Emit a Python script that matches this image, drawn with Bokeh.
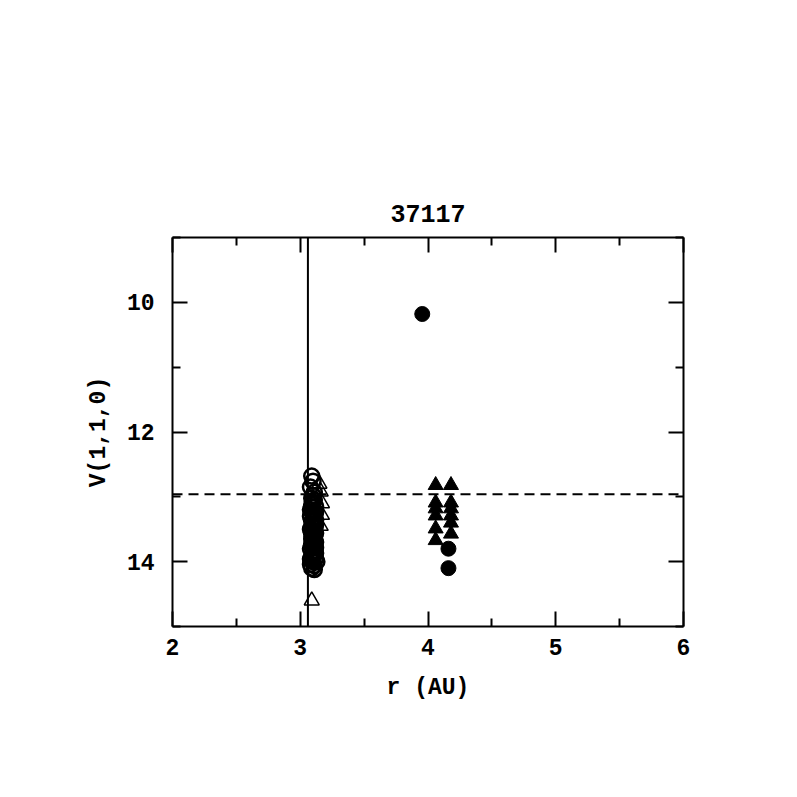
from bokeh.plotting import figure
from bokeh.models import Range1d, LinearAxis, Span, FixedTicker, CustomJSTickFormatter
from bokeh.embed import file_html
from bokeh.resources import INLINE

# ---- data ----
title_text = "37117"
x_ticks = [2, 3, 4, 5, 6]
x_minor = [2.5, 3.5, 4.5, 5.5]
y_ticks = [10, 12, 14]
y_minor = [9, 11, 13, 15]

open_circle_r = [3.09, 3.10, 3.08, 3.11, 3.09, 3.10, 3.12, 3.08, 3.10, 3.11,
                 3.09, 3.12, 3.08, 3.10, 3.11, 3.09, 3.12, 3.10, 3.08, 3.11,
                 3.09, 3.12, 3.10, 3.08, 3.13, 3.09, 3.11, 3.10, 3.11, 3.09,
                 3.12, 3.08, 3.10, 3.11, 3.09, 3.12, 3.10, 3.08, 3.11, 3.10,
                 3.09, 3.11, 3.10, 3.12, 3.09, 3.10, 3.11, 3.09, 3.10, 3.12,
                 3.10, 3.09, 3.11, 3.10, 3.12, 3.09]
open_circle_v = [12.68, 12.76, 12.85, 12.93, 13.02, 13.08, 13.15, 13.20, 13.27, 13.33,
                 13.38, 13.44, 13.50, 13.55, 13.60, 13.65, 13.70, 13.74, 13.80, 13.85,
                 13.90, 13.95, 14.00, 14.04, 14.00, 14.10, 14.12, 13.62, 13.05, 13.12,
                 13.24, 13.30, 13.42, 13.48, 13.58, 13.78, 13.88, 13.96, 13.68, 12.98,
                 13.16, 13.22, 13.35, 13.36, 13.46, 13.52, 13.64, 13.72, 13.83, 13.87,
                 13.92, 13.98, 14.06, 13.10, 13.56, 13.76]

open_tri_r = [3.15, 3.16, 3.17, 3.17, 3.16, 3.09]
open_tri_v = [12.80, 12.92, 13.10, 13.28, 13.45, 14.60]

filled_circle_r = [3.955, 4.16, 4.16]
filled_circle_v = [10.18, 13.80, 14.10]

filled_tri_r = [4.06, 4.06, 4.06, 4.06, 4.06, 4.06,
                4.18, 4.18, 4.18, 4.18, 4.18, 4.18]
filled_tri_v = [12.82, 13.09, 13.18, 13.29, 13.49, 13.67,
                12.82, 13.09, 13.18, 13.29, 13.40, 13.57]

r_limit = 3.06
v_limit = 12.96

FONT = "Liberation Mono"

p = figure(width=790, height=790, output_backend="svg", toolbar_location=None,
           x_range=Range1d(2, 6), y_range=Range1d(15, 9),
           min_border_left=172, min_border_right=107,
           min_border_top=237, min_border_bottom=164,
           title=title_text)
p.title.align = "center"
p.title.text_font = FONT
p.title.text_font_size = "25px"
p.title.text_font_style = "bold"
p.title.text_color = "black"
p.title.standoff = 31

p.grid.visible = False
p.outline_line_color = None
p.background_fill_color = "white"


def style_axis(ax, ticks, minor, labels=True):
    ax.ticker = FixedTicker(ticks=ticks, minor_ticks=minor)
    ax.axis_line_width = 2
    ax.axis_line_color = "black"
    ax.major_tick_in = 15
    ax.major_tick_out = 0
    ax.minor_tick_in = 8
    ax.minor_tick_out = 0
    ax.major_tick_line_width = 2
    ax.minor_tick_line_width = 2
    ax.major_tick_line_color = "black"
    ax.minor_tick_line_color = "black"
    ax.major_label_text_font = FONT
    ax.major_label_text_font_size = "23px"
    ax.major_label_text_font_style = "bold"
    ax.major_label_text_color = "black"
    ax.axis_label_text_font = FONT
    ax.axis_label_text_font_size = "23px"
    ax.axis_label_text_font_style = "bold"
    ax.axis_label_text_color = "black"
    if not labels:
        ax.formatter = CustomJSTickFormatter(code="return ''")
        ax.major_label_standoff = 0


for ax in p.xaxis:
    style_axis(ax, x_ticks, x_minor)
    ax.axis_label = "r (AU)"
    ax.major_label_standoff = 12
    ax.axis_label_standoff = 17
for ax in p.yaxis:
    style_axis(ax, y_ticks, y_minor)
    ax.axis_label = "V(1,1,0)"
    ax.major_label_standoff = 18
    ax.axis_label_standoff = 12
    ax.major_label_orientation = "horizontal"

top = LinearAxis()
style_axis(top, x_ticks, x_minor, labels=False)
p.add_layout(top, "above")
right = LinearAxis()
style_axis(right, y_ticks, y_minor, labels=False)
p.add_layout(right, "right")

p.add_layout(Span(location=r_limit, dimension="height", line_color="black", line_width=2))
p.add_layout(Span(location=v_limit, dimension="width", line_color="black", line_width=2,
                  line_dash="10 6"))

p.scatter(open_circle_r, open_circle_v, marker="circle", size=15,
          fill_color=None, line_color="black", line_width=2.5)
p.scatter(open_tri_r, open_tri_v, marker="triangle", size=15,
          fill_color=None, line_color="black", line_width=1.5)
p.scatter(filled_circle_r, filled_circle_v, marker="circle", size=15,
          fill_color="black", line_color="black")
p.scatter(filled_tri_r, filled_tri_v, marker="triangle", size=15,
          fill_color="black", line_color="black")

open("out.html", "w").write(file_html(p, INLINE))
